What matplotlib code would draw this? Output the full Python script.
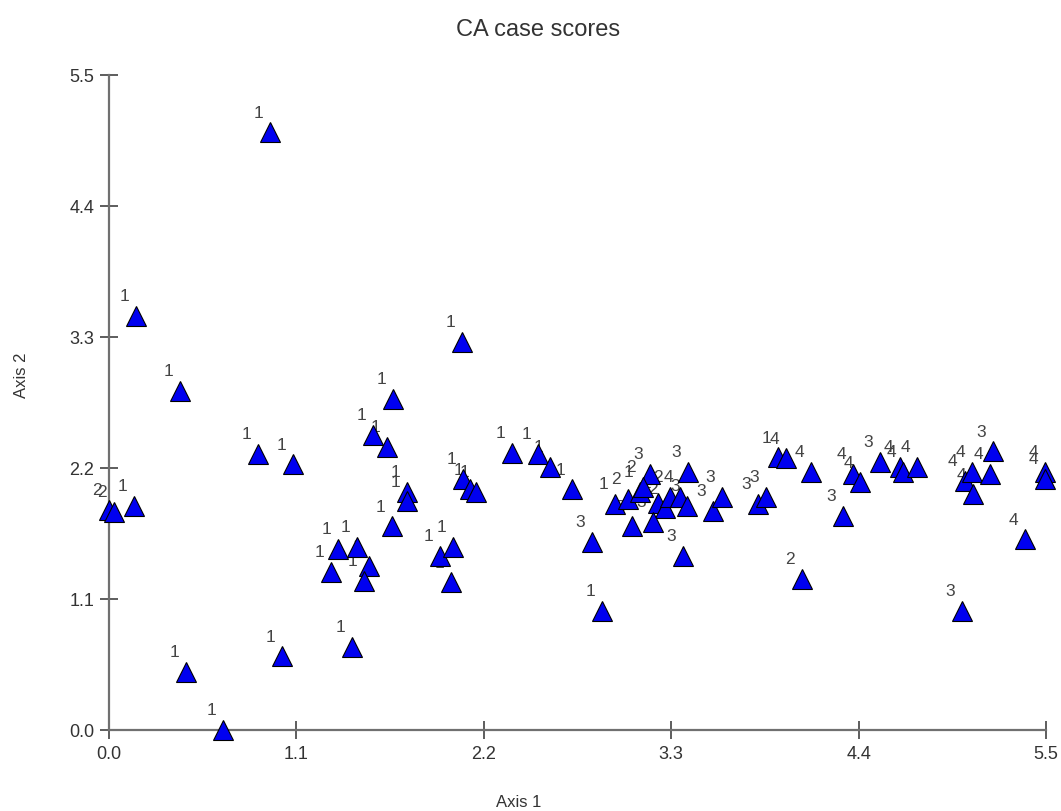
import matplotlib
matplotlib.use("Agg")
import matplotlib.pyplot as plt

# case scores (axis 1, axis 2) and group label of each case
axis1 = [0.945, 0.158, 0.417, 0.874, 1.080, 0.0, 0.03, 0.147, 0.452, 0.669,
         1.015, 1.426, 1.667, 1.549, 1.631, 1.749, 1.749, 1.661, 1.344, 1.455,
         1.303, 1.526, 1.496, 1.942, 2.019, 2.007, 2.072, 2.077, 2.119, 2.154,
         2.365, 2.518, 2.588, 2.717, 2.834, 2.893, 2.969, 3.046, 3.116, 3.175,
         3.134, 3.222, 3.263, 3.192, 3.069, 3.292, 3.351, 3.398, 3.392, 3.369,
         3.545, 3.597, 3.809, 3.856, 3.926, 3.973, 4.120, 4.067, 4.308, 4.366,
         4.407, 4.525, 4.642, 4.660, 4.742, 5.006, 5.023, 5.065, 5.070, 5.170,
         5.188, 5.376, 5.493, 5.493]
axis2 = [5.02, 3.48, 2.85, 2.32, 2.23, 1.85, 1.83, 1.88, 0.49, 0.0,
         0.62, 0.70, 2.78, 2.48, 2.38, 2.00, 1.92, 1.71, 1.52, 1.54,
         1.33, 1.38, 1.25, 1.46, 1.54, 1.24, 3.26, 2.11, 2.02, 2.00,
         2.33, 2.32, 2.21, 2.02, 1.58, 1.00, 1.90, 1.94, 2.00, 2.15,
         2.04, 1.91, 1.86, 1.75, 1.71, 1.96, 1.96, 2.17, 1.88, 1.46,
         1.84, 1.96, 1.90, 1.96, 2.29, 2.28, 2.17, 1.27, 1.80, 2.15,
         2.08, 2.25, 2.21, 2.17, 2.21, 1.00, 2.09, 2.17, 1.98, 2.15,
         2.34, 1.60, 2.17, 2.11]
groups = ["1", "1", "1", "1", "1", "2", "2", "1", "1", "1",
          "1", "1", "1", "1", "1", "1", "1", "1", "1", "1",
          "1", "1", "1", "1", "1", "1", "1", "1", "1", "1",
          "1", "1", "1", "1", "3", "1", "1", "2", "1", "3",
          "2", "2", "2", "3", "3", "2", "4", "3", "3", "3",
          "3", "3", "3", "3", "1", "4", "4", "2", "3", "4",
          "4", "3", "4", "4", "4", "3", "4", "4", "4", "4",
          "3", "4", "4", "4"]

ticks = [0.0, 1.1, 2.2, 3.3, 4.4, 5.5]
tick_labels = ["0.0", "1.1", "2.2", "3.3", "4.4", "5.5"]

plt.rcParams["font.family"] = ["Liberation Sans", "DejaVu Sans"]

fig = plt.figure(figsize=(10.61, 8.12), dpi=100)
ax = fig.add_axes([109 / 1061, 81 / 812, 937 / 1061, 655 / 812])

ax.plot(axis1, axis2, linestyle="none", marker="^", markersize=14.5,
        markerfacecolor="#0000f0", markeredgecolor="black", markeredgewidth=0.8,
        clip_on=False, zorder=3)
for x, y, g in zip(axis1, axis2, groups):
    ax.annotate(g, (x, y), xytext=(-8.5, 14.5), textcoords="offset points",
                ha="center", va="center", fontsize=12.5, color="#444444",
                annotation_clip=False, zorder=2)

ax.set_xlim(0, 5.5)
ax.set_ylim(0, 5.5)
ax.set_xticks(ticks)
ax.set_xticklabels(tick_labels)
ax.set_yticks(ticks)
ax.set_yticklabels(tick_labels)

for side in ["top", "right"]:
    ax.spines[side].set_visible(False)
for side in ["left", "bottom"]:
    ax.spines[side].set_color("#707070")
    ax.spines[side].set_linewidth(1.6)
ax.tick_params(direction="inout", length=13, width=1.3, color="#505050",
               labelsize=13, labelcolor="#333333", pad=4)

fig.text(538 / 1061, 1 - 30 / 812, "CA case scores", ha="center", va="center",
         fontsize=17, color="#333333")
fig.text(519 / 1061, 1 - 803 / 812, "Axis 1", ha="center", va="center",
         fontsize=12, color="#333333")
fig.text(22 / 1061, 1 - 375 / 812, "Axis 2", ha="center", va="center",
         rotation=90, fontsize=12, color="#333333")

fig.savefig("out.png", dpi=100)
